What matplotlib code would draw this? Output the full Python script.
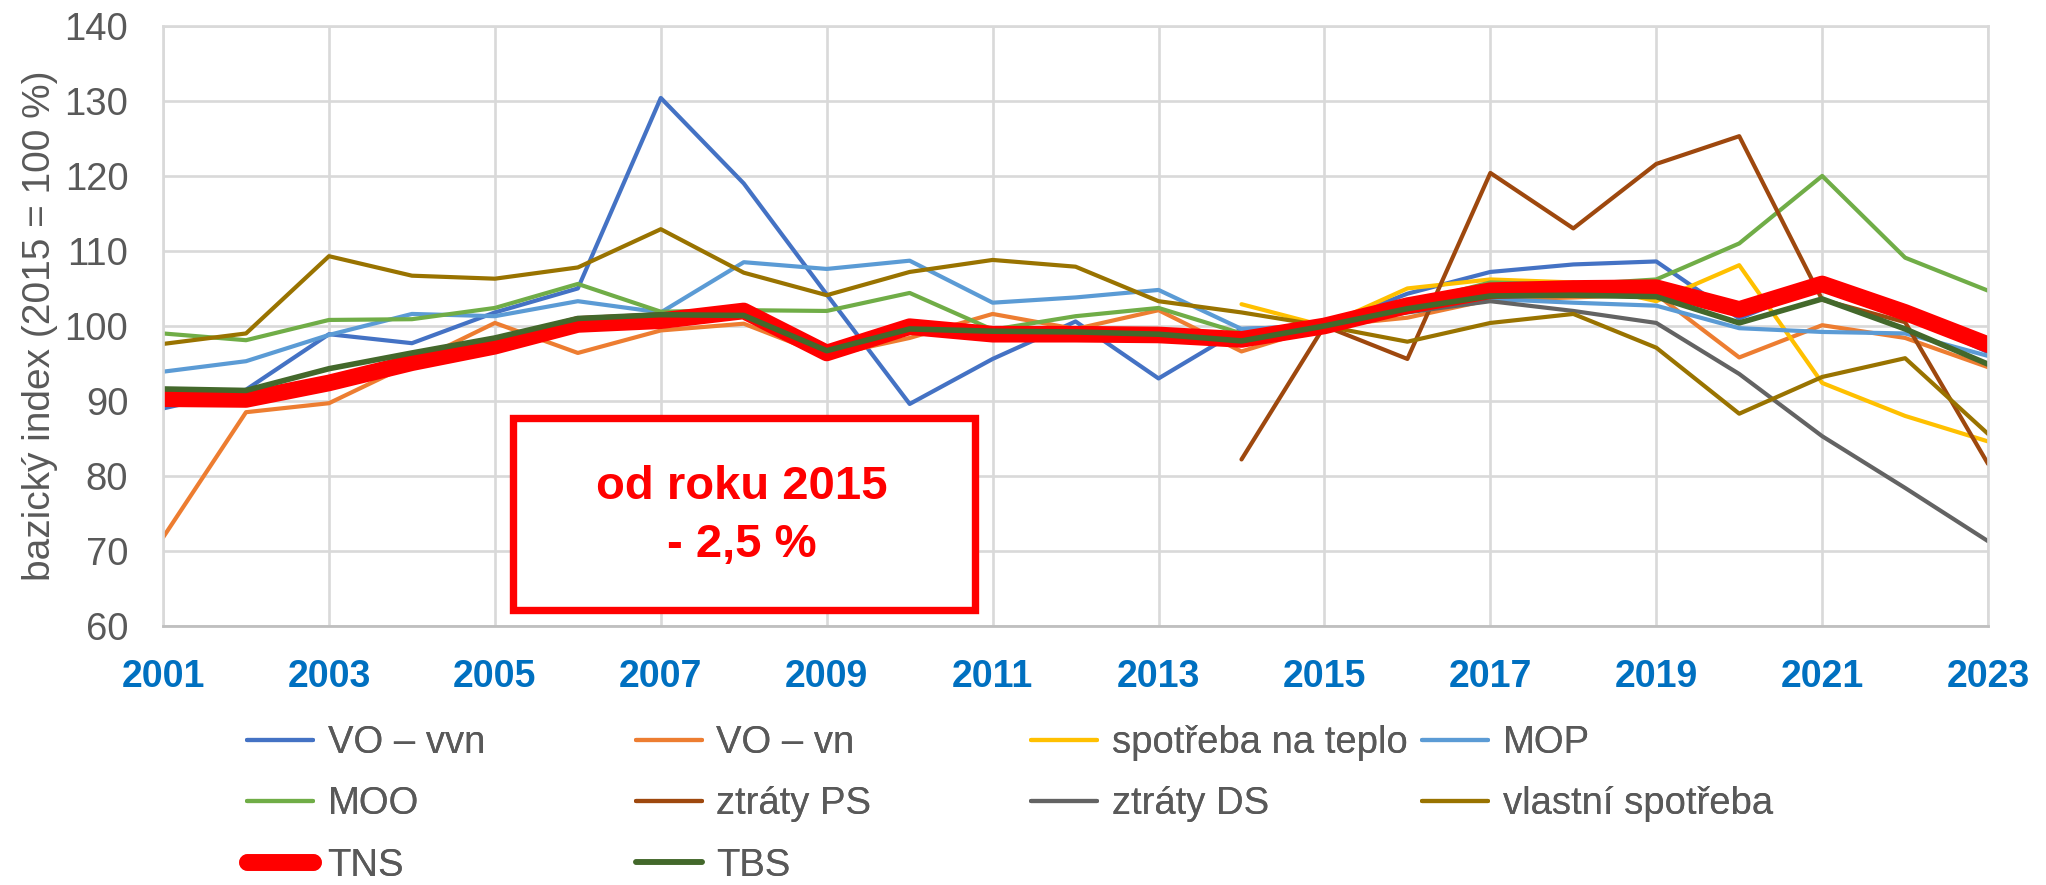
import numpy as np
import matplotlib
matplotlib.use("Agg")
import matplotlib.pyplot as plt
from matplotlib.patches import Rectangle

plt.rcParams['font.family'] = ['Liberation Sans', 'DejaVu Sans']

nan = np.nan
years = list(range(2001, 2024))

vo_vvn = [89.0, 91.5, 98.9, 97.7, 101.8, 105.0, 130.4, 119.0, 104.2, 89.6, 95.6, 100.6,
          93.0, 99.6, 100.0, 104.3, 107.2, 108.2, 108.6, 101.0, 105.5, 101.5, 96.5]
vo_vn = [71.8, 88.5, 89.7, 95.0, 100.4, 96.4, 99.4, 100.3, 96.0, 98.4, 101.6, 99.6,
         102.1, 96.6, 100.0, 101.1, 103.5, 103.8, 104.2, 95.8, 100.1, 98.4, 94.5]
teplo = [nan] * 13 + [102.9, 100.0, 105.0, 106.2, 105.8, 103.3, 108.1, 92.4, 88.0, 84.6]
mop = [93.9, 95.3, 98.8, 101.6, 101.3, 103.3, 101.8, 108.5, 107.6, 108.7, 103.1, 103.8,
       104.8, 99.6, 100.0, 103.5, 103.6, 103.1, 102.7, 99.7, 99.2, 99.0, 96.0]
moo = [99.0, 98.1, 100.8, 100.9, 102.4, 105.6, 101.9, 102.1, 102.0, 104.4, 99.5, 101.3,
       102.4, 99.0, 100.0, 103.0, 105.8, 105.5, 106.2, 111.0, 120.0, 109.1, 104.7]
ztraty_ps = [nan] * 13 + [82.2, 100.0, 95.6, 120.4, 113.0, 121.6, 125.3, 103.5, 100.5, 81.6]
ztraty_ds = [nan] * 14 + [100.0, 101.8, 103.3, 102.0, 100.4, 93.6, 85.3, 78.4, 71.3]
vlastni = [97.6, 99.0, 109.3, 106.7, 106.3, 107.8, 112.9, 107.1, 104.1, 107.2, 108.8, 107.9,
           103.3, 101.8, 100.0, 97.9, 100.4, 101.6, 97.1, 88.3, 93.2, 95.7, 85.6]
tns = [90.3, 90.2, 92.4, 95.1, 97.3, 100.2, 100.7, 102.0, 96.4, 99.9, 98.9, 98.9,
       98.8, 98.2, 100.0, 102.7, 104.7, 105.0, 105.1, 102.2, 105.6, 101.8, 97.5]
tbs = [91.6, 91.4, 94.3, 96.4, 98.4, 101.0, 101.5, 101.4, 96.7, 99.6, 99.3, 99.2,
       98.9, 98.0, 100.0, 102.3, 104.0, 104.1, 103.9, 100.4, 103.6, 99.6, 94.9]

labels = ["VO – vvn", "VO – vn", "spotřeba na teplo", "MOP", "MOO", "ztráty PS",
          "ztráty DS", "vlastní spotřeba", "TNS", "TBS"]
series = [vo_vvn, vo_vn, teplo, mop, moo, ztraty_ps, ztraty_ds, vlastni, tns, tbs]
colors = ["#4472C4", "#ED7D31", "#FFC000", "#5B9BD5", "#70AD47", "#9E480E",
          "#636363", "#997300", "#FF0000", "#43682B"]
widths = [3.0, 3.0, 3.0, 3.0, 3.0, 3.0, 3.0, 3.0, 12, 4.0]

fig = plt.figure(figsize=(20.46, 8.85), dpi=100)
ax = fig.add_axes([0.0797, 0.2927, 0.892, 0.678])

lines = []
for vals, lab, col, lw in zip(series, labels, colors, widths):
    ln, = ax.plot(years, vals, color=col, lw=lw, label=lab,
                  solid_capstyle='round', solid_joinstyle='round')
    lines.append(ln)

ax.set_xlim(2001, 2023)
ax.set_ylim(60, 140)
ax.set_xticks(range(2001, 2024, 2))
ax.set_yticks(range(60, 141, 10))
ax.grid(True, color="#D9D9D9", lw=1.9)
ax.set_axisbelow(True)
for side in ['left', 'top', 'right']:
    ax.spines[side].set_color("#D9D9D9")
    ax.spines[side].set_linewidth(1.9)
ax.spines['bottom'].set_color("#BFBFBF")
ax.spines['bottom'].set_linewidth(2.0)

ax.tick_params(axis='y', length=0, pad=25, labelsize=27.5, labelcolor="#595959")
ax.tick_params(axis='x', length=0, pad=24, labelsize=27, labelcolor="#0070C0")
for t in ax.get_xticklabels():
    t.set_fontweight('bold')
ax.set_ylabel("bazický index (2015 = 100 %)", fontsize=28, color="#595959")
ax.yaxis.set_label_coords(-0.0575, 0.5)

# text box
ax.add_patch(Rectangle((0.1915, 0.027), 0.2535, 0.319, transform=ax.transAxes,
                       fill=True, facecolor="white", edgecolor="#FF0000", lw=5.3, zorder=5))
ax.text(0.317, 0.183, "od roku 2015\n- 2,5 %", transform=ax.transAxes, ha='center',
        va='center', fontsize=34, fontweight='bold', color="#FF0000", linespacing=1.4,
        zorder=6)

# legend: four fixed-width columns
columns = [[0, 4, 8], [1, 5, 9], [2, 6], [3, 7]]
col_x = [0.1207, 0.3108, 0.5039, 0.695]
for idx, x in zip(columns, col_x):
    leg = fig.legend([lines[i] for i in idx], [labels[i] for i in idx],
                     loc='upper left', bbox_to_anchor=(x, 0.1805), frameon=False,
                     fontsize=27.5, labelcolor="#595959", borderpad=0, borderaxespad=0,
                     handlelength=1.73, handletextpad=0.38, labelspacing=0.66)
    fig.add_artist(leg)

fig.savefig("out.png", dpi=100)
